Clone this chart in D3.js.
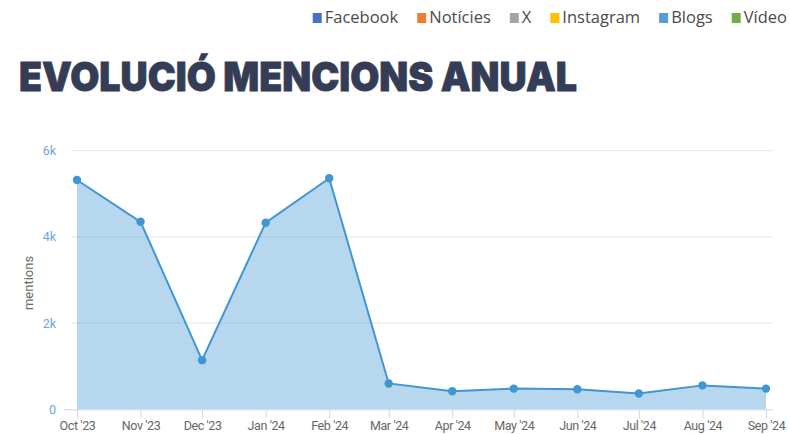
<!DOCTYPE html>
<html>
<head>
<meta charset="utf-8">
<script src="https://cdn.jsdelivr.net/npm/d3@7"></script>
<style>
    html, body { margin: 0; padding: 0; background: #fff; }
    svg { display: block; }
</style>
</head>
<body>
<div class="canvas"></div>
<script>
// DATA
const months = ['2023-10-01', '2023-11-01', '2023-12-01', '2024-01-01', '2024-02-01', '2024-03-01',
    '2024-04-01', '2024-05-01', '2024-06-01', '2024-07-01', '2024-08-01', '2024-09-01'];
const mentions = [5320, 4350, 1140, 4330, 5360, 600, 420, 480, 465, 365, 555, 480];
const yTicks = [0, 2000, 4000, 6000];

const legendNames = ['Facebook', 'Notícies', 'X', 'Instagram', 'Blogs', 'Vídeo'];
const legendColors = ['#4472c4', '#ed7d31', '#a5a5a5', '#ffc000', '#5b9bd5', '#70ad47'];

const parse = d3.timeParse('%Y-%m-%d');
const data = months.map((m, i) => ({ date: parse(m), value: mentions[i] }));


// worksheet
const width = 790, height = 434;
const svg = d3.select('.canvas').append('svg')
    .attr('width', width)
    .attr('height', height);


// LEGEND (laid out from the right edge)
const legend = svg.append('g');
let lx = 787;
for (let i = legendNames.length - 1; i >= 0; i--) {
    const t = legend.append('text')
        .attr('y', 23)
        .attr('fill', '#4a4a4a')
        .style('font-family', 'Open Sans, sans-serif')
        .style('font-size', '16.5px')
        .text(legendNames[i]);
    const w = t.node().getComputedTextLength();
    lx -= w;
    t.attr('x', lx);
    legend.append('rect')
        .attr('x', lx - 12)
        .attr('y', 13)
        .attr('width', 9)
        .attr('height', 10)
        .attr('fill', legendColors[i]);
    lx -= 31;
}


// TITLE
svg.append('text')
    .attr('x', 19)
    .attr('y', 91)
    .attr('fill', '#343c56')
    .attr('stroke', '#343c56')
    .attr('stroke-width', 0.8)
    .attr('textLength', 558)
    .attr('lengthAdjust', 'spacingAndGlyphs')
    .style('font-family', 'Inter, Lato, sans-serif')
    .style('font-weight', 900)
    .style('font-size', '40px')
    .text('EVOLUCIÓ MENCIONS ANUAL');


// scales
const x = d3.scaleTime()
    .domain(d3.extent(data, d => d.date))
    .range([77, 766]);

const y = d3.scaleLinear()
    .domain([0, 6000])
    .range([409.3, 150.7]);


// gridlines
svg.append('g')
    .selectAll('line')
    .data(yTicks.slice(1))
    .join('line')
    .attr('x1', 71)
    .attr('x2', 773)
    .attr('y1', d => y(d))
    .attr('y2', d => y(d))
    .attr('stroke', '#e6e6e6')
    .attr('stroke-width', 1);


// AREA + LINE
const area = d3.area()
    .x(d => x(d.date))
    .y0(y(0))
    .y1(d => y(d.value));

const line = d3.line()
    .x(d => x(d.date))
    .y(d => y(d.value));

svg.append('path')
    .datum(data)
    .attr('d', area)
    .attr('fill', '#4096d2')
    .attr('fill-opacity', 0.38);


// x axis
const xAxis = svg.append('g')
    .attr('transform', `translate(0,${y(0)})`)
    .call(d3.axisBottom(x)
        .tickValues(data.map(d => d.date))
        .tickSize(9)
        .tickFormat(d3.timeFormat("%b '%y")));

xAxis.select('.domain')
    .attr('d', 'M71,0.5H773')
    .attr('stroke', '#ccd6eb');
xAxis.selectAll('.tick line')
    .attr('stroke', '#ccd6eb');
xAxis.selectAll('.tick text')
    .attr('fill', '#666666')
    .attr('dy', '0.75em')
    .attr('y', 11)
    .style('font-family', 'Roboto, sans-serif')
    .style('font-size', '12.5px')
    .style('letter-spacing', '-0.4px');


svg.append('path')
    .datum(data)
    .attr('d', line)
    .attr('fill', 'none')
    .attr('stroke', '#4096d2')
    .attr('stroke-width', 2);

svg.append('g')
    .selectAll('circle')
    .data(data)
    .join('circle')
    .attr('cx', d => x(d.date))
    .attr('cy', d => y(d.value))
    .attr('r', 4.2)
    .attr('fill', '#4096d2');


// y axis
const yAxis = svg.append('g')
    .attr('transform', 'translate(71,0)')
    .call(d3.axisLeft(y)
        .tickValues(yTicks)
        .tickSize(0)
        .tickPadding(15)
        .tickFormat(d => d === 0 ? '0' : d / 1000 + 'k'));

yAxis.select('.domain').remove();
yAxis.selectAll('.tick text')
    .attr('fill', '#6ea6d8')
    .style('font-family', 'Roboto, sans-serif')
    .style('font-size', '12.5px');

// small tick at zero
svg.append('line')
    .attr('x1', 64)
    .attr('x2', 71)
    .attr('y1', y(0) + 0.5)
    .attr('y2', y(0) + 0.5)
    .attr('stroke', '#ccd6eb');


// axis title
svg.append('text')
    .attr('transform', `translate(33,${y(3000) + 3}) rotate(-90)`)
    .attr('text-anchor', 'middle')
    .attr('fill', '#666666')
    .style('font-family', 'Roboto, sans-serif')
    .style('font-size', '13px')
    .text('mentions');
</script>
</body>
</html>
